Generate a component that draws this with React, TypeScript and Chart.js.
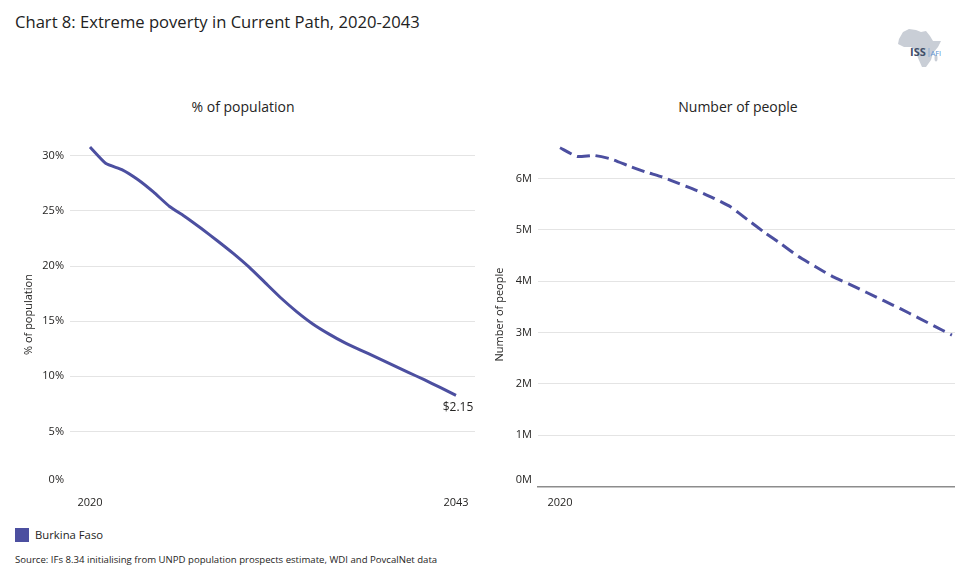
import React, { useEffect, useRef } from 'react';
import { Chart, registerables } from 'chart.js';

Chart.register(...registerables);

// ---------- data ----------
const YEARS = [
  2020, 2021, 2022, 2023, 2024, 2025, 2026, 2027, 2028, 2029, 2030, 2031,
  2032, 2033, 2034, 2035, 2036, 2037, 2038, 2039, 2040, 2041, 2042, 2043,
];
// % of population in extreme poverty ($2.15)
const PCT_POPULATION = [
  30.8, 29.3, 28.75, 27.85, 26.7, 25.4, 24.45, 23.4, 22.3, 21.15, 19.9, 18.5,
  17.1, 15.85, 14.75, 13.85, 13.05, 12.38, 11.71, 11.04, 10.36, 9.69, 8.99, 8.27,
];
// Number of people in extreme poverty (millions)
const PEOPLE_MILLIONS = [
  6.6, 6.43, 6.45, 6.38, 6.25, 6.13, 6.03, 5.9, 5.77, 5.62, 5.45, 5.2,
  4.95, 4.72, 4.48, 4.28, 4.09, 3.94, 3.78, 3.62, 3.46, 3.29, 3.12, 2.95,
];
const LEFT_Y_TICKS = [0, 5, 10, 15, 20, 25, 30];
const RIGHT_Y_TICKS = [0, 1, 2, 3, 4, 5, 6];
const LEFT_X_TICKS = [2020, 2043];
const RIGHT_X_TICKS = [2020];
const SERIES_NAME = 'Burkina Faso';
const END_LABEL = '$2.15';

const TITLE = 'Chart 8: Extreme poverty in Current Path, 2020-2043';
const LEFT_SUBTITLE = '% of population';
const RIGHT_SUBTITLE = 'Number of people';
const SOURCE = 'Source: IFs 8.34 initialising from UNPD population prospects estimate, WDI and PovcalNet data';

// ---------- styles ----------
const FONT = "'Segoe UI', 'Open Sans', sans-serif";
const LINE_COLOR = '#4C4FA0';
const TICK_COLOR = '#252423';
const GRID_COLOR = '#E4E4E4';

type Side = {
  values: number[];
  yTicks: number[];
  xTicks: number[];
  yMax: number;
  xMin: number;
  xMax: number;
  yWidth: number;
  titleText: string;
  titlePad: number;
  fmt: (v: number) => string;
  dashed: boolean;
  axisLine: boolean;
  endLabel?: string;
};

function makeChart(canvas: HTMLCanvasElement, s: Side) {
  const zeroLabel = {
    id: 'zeroLabel',
    afterDraw(chart: any) {
      const ys = chart.scales.y;
      const ctx = chart.ctx;
      ctx.save();
      ctx.font = `11px ${FONT}`;
      ctx.fillStyle = TICK_COLOR;
      ctx.textAlign = 'right';
      ctx.textBaseline = 'middle';
      ctx.fillText(s.fmt(0), ys.right - 6, ys.getPixelForValue(0) - 7);
      ctx.restore();
    },
  };
  const endLabel = {
    id: 'endLabel',
    afterDatasetsDraw(chart: any) {
      if (!s.endLabel) return;
      const meta = chart.getDatasetMeta(0);
      const pt = meta.data[meta.data.length - 1];
      const ctx = chart.ctx;
      ctx.save();
      ctx.font = `12px ${FONT}`;
      ctx.fillStyle = TICK_COLOR;
      ctx.textAlign = 'center';
      ctx.textBaseline = 'middle';
      ctx.fillText(s.endLabel, pt.x + 2, pt.y + 12);
      ctx.restore();
    },
  };
  return new Chart(canvas, {
    type: 'line',
    data: {
      datasets: [
        {
          label: SERIES_NAME,
          data: YEARS.map((y, i) => ({ x: y, y: s.values[i] })),
          borderColor: LINE_COLOR,
          backgroundColor: LINE_COLOR,
          borderWidth: 3,
          borderDash: s.dashed ? [13, 6] : [],
          pointRadius: 0,
          tension: 0.15,
          borderJoinStyle: 'round',
        },
      ],
    },
    options: {
      animation: false,
      responsive: false,
      maintainAspectRatio: false,
      layout: { padding: { top: 8, right: s.axisLine ? 0 : 5, left: 0, bottom: 0 } },
      plugins: { legend: { display: false }, tooltip: { enabled: false } },
      scales: {
        x: {
          type: 'linear',
          min: s.xMin,
          max: s.xMax,
          afterBuildTicks: (sc: any) => {
            sc.ticks = s.xTicks.map((v) => ({ value: v }));
          },
          afterFit: (sc: any) => {
            sc.height = 33.5;
          },
          grid: { display: false, drawTicks: false },
          border: { display: s.axisLine, color: '#8C8C8C', width: 1.5 },
          ticks: {
            padding: 10,
            color: TICK_COLOR,
            font: { family: FONT, size: 11 },
            maxRotation: 0,
            callback: (v: any) => String(v),
          },
        },
        y: {
          type: 'linear',
          min: 0,
          max: s.yMax,
          afterBuildTicks: (sc: any) => {
            sc.ticks = s.yTicks.map((v) => ({ value: v }));
          },
          afterFit: (sc: any) => {
            sc.width = s.yWidth;
          },
          grid: {
            drawTicks: false,
            color: (c: any) => (c.tick && c.tick.value === 0 ? 'rgba(0,0,0,0)' : GRID_COLOR),
            lineWidth: 1,
          },
          border: { display: false },
          ticks: {
            padding: 6,
            color: TICK_COLOR,
            font: { family: FONT, size: 11 },
            callback: (v: any) => (v === 0 ? '' : s.fmt(v)),
          },
          title: {
            display: true,
            text: s.titleText,
            color: TICK_COLOR,
            font: { family: FONT, size: 11 },
            padding: { top: s.titlePad, bottom: 0 },
          },
        },
      },
    },
    plugins: [zeroLabel, endLabel],
  } as any);
}

function AfricaLogo() {
  return (
    <svg
      width={50}
      height={42}
      viewBox="0 0 50 42"
      style={{ position: 'absolute', left: 895, top: 27 }}
    >
      <path
        d="M4 12 L8 5 L14 2 L21 3 L26 5 L31 4 L35 9 L38 14 L46 14 L43 20 L38 26 L36 33 L31 40 L27 40 L23 31 L21 24 L16 20 L9 20 L3 17 Z"
        fill="#C9CED6"
      />
      <ellipse cx={41} cy={31} rx={1.5} ry={3.5} fill="#C9CED6" />
      <text x={15} y={29} fontSize={11} fontWeight={700} fill="#3F4E68" fontFamily={FONT}>
        ISS
      </text>
      <line x1={34} y1={21} x2={34} y2={30} stroke="#7FA7D6" strokeWidth={0.8} />
      <text x={35.5} y={29} fontSize={7.5} fill="#5B93D1" fontFamily={FONT}>
        AFI
      </text>
    </svg>
  );
}

export default function App() {
  const leftRef = useRef<HTMLCanvasElement>(null);
  const rightRef = useRef<HTMLCanvasElement>(null);

  useEffect(() => {
    const left = makeChart(leftRef.current!, {
      values: PCT_POPULATION,
      yTicks: LEFT_Y_TICKS,
      xTicks: LEFT_X_TICKS,
      yMax: 31.2,
      xMin: 2018.743,
      xMax: 2044.194,
      yWidth: 70,
      titleText: LEFT_SUBTITLE,
      titlePad: 22,
      fmt: (v) => `${v}%`,
      dashed: false,
      axisLine: false,
      endLabel: END_LABEL,
    });
    const right = makeChart(rightRef.current!, {
      values: PEOPLE_MILLIONS,
      yTicks: RIGHT_Y_TICKS,
      xTicks: RIGHT_X_TICKS,
      yMax: 6.7,
      xMin: 2018.709,
      xMax: 2043.18,
      yWidth: 58,
      titleText: RIGHT_SUBTITLE,
      titlePad: 13.5,
      fmt: (v) => `${v}M`,
      dashed: true,
      axisLine: true,
    });
    return () => {
      left.destroy();
      right.destroy();
    };
  }, []);

  return (
    <div
      style={{
        position: 'absolute',
        left: 0,
        top: 0,
        width: 955,
        height: 584,
        overflow: 'hidden',
        background: '#fff',
        fontFamily: FONT,
        color: '#222',
      }}
    >
      <div style={{ position: 'absolute', left: 15, top: 10, fontSize: 16.6, whiteSpace: 'nowrap' }}>{TITLE}</div>
      <AfricaLogo />
      <div
        style={{
          position: 'absolute',
          left: 143,
          width: 200,
          top: 97,
          textAlign: 'center',
          fontSize: 14,
          color: '#252423',
        }}
      >
        {LEFT_SUBTITLE}
      </div>
      <div
        style={{
          position: 'absolute',
          left: 638,
          width: 200,
          top: 97,
          textAlign: 'center',
          fontSize: 14,
          color: '#252423',
        }}
      >
        {RIGHT_SUBTITLE}
      </div>
      <canvas
        ref={leftRef}
        width={480}
        height={390}
        style={{ position: 'absolute', left: 0, top: 130, width: 480, height: 390 }}
      />
      <canvas
        ref={rightRef}
        width={475}
        height={390}
        style={{ position: 'absolute', left: 480, top: 130, width: 475, height: 390 }}
      />
      <div style={{ position: 'absolute', left: 15, top: 527, display: 'flex', alignItems: 'center' }}>
        <div style={{ width: 14, height: 14, background: LINE_COLOR }} />
        <span style={{ marginLeft: 6, fontSize: 11.3, color: '#252423' }}>{SERIES_NAME}</span>
      </div>
      <div style={{ position: 'absolute', left: 15, top: 553, fontSize: 9.6, color: '#252423', whiteSpace: 'nowrap' }}>
        {SOURCE}
      </div>
    </div>
  );
}
